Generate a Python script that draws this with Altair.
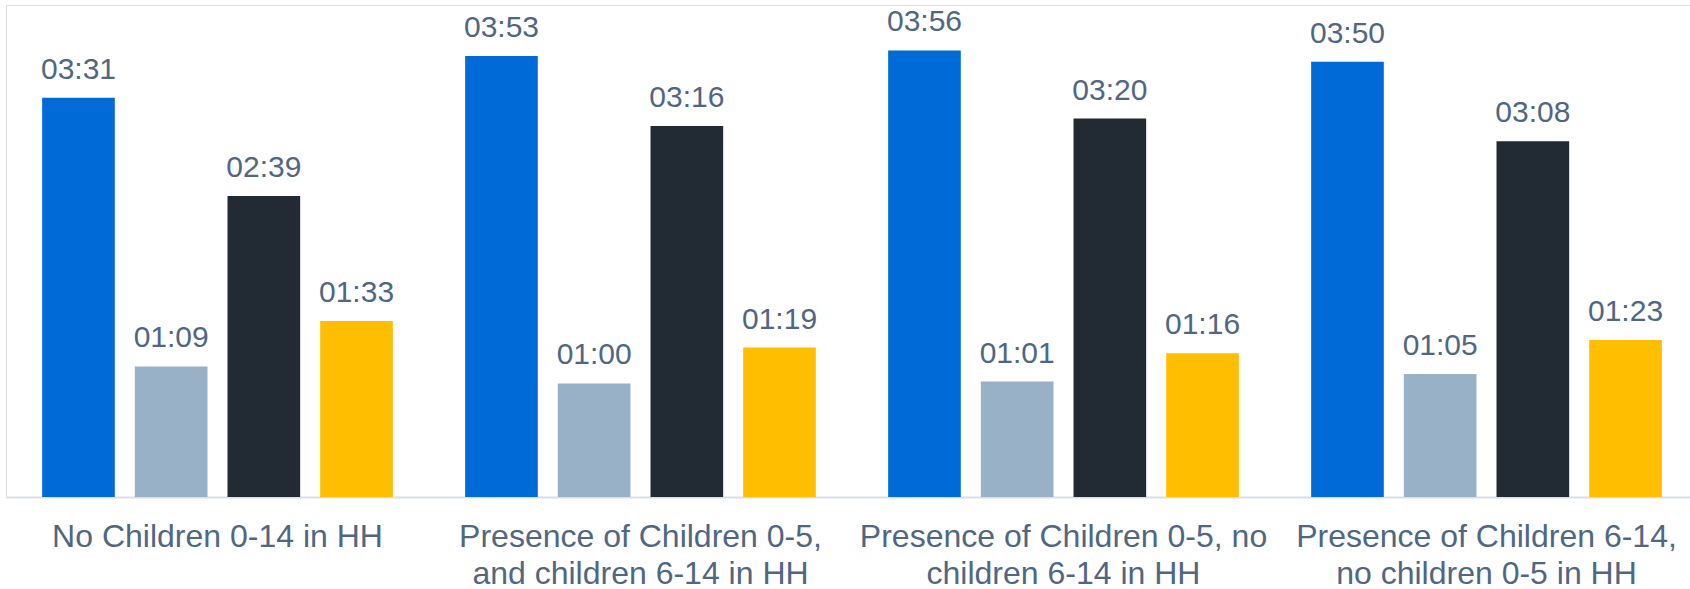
import altair as alt
import pandas as pd

groups = [
    "No Children 0-14 in HH",
    "Presence of Children 0-5,|and children 6-14 in HH",
    "Presence of Children 0-5, no|children 6-14 in HH",
    "Presence of Children 6-14,|no children 0-5 in HH",
]
series = ["Series A", "Series B", "Series C", "Series D"]
colors = ["#006ad6", "#98b1c7", "#222a33", "#ffbf00"]

# values as hh:mm labels, per group, per series
labels_a = ["03:31", "03:53", "03:56", "03:50"]
labels_b = ["01:09", "01:00", "01:01", "01:05"]
labels_c = ["02:39", "03:16", "03:20", "03:08"]
labels_d = ["01:33", "01:19", "01:16", "01:23"]


def to_min(s):
    h, m = s.split(":")
    return int(h) * 60 + int(m)


rows = []
for s, labs in zip(series, [labels_a, labels_b, labels_c, labels_d]):
    for g, lab in zip(groups, labs):
        rows.append({"group": g, "series": s, "label": lab, "minutes": to_min(lab)})
df = pd.DataFrame(rows)

text_color = "#4f6782"

x_enc = alt.X(
    "group:N",
    sort=groups,
    title=None,
    scale=alt.Scale(range=[0, 1692], paddingInner=0, paddingOuter=0),
    axis=alt.Axis(
        labelAngle=0,
        labelFont="Liberation Sans",
        labelFontSize=32,
        labelColor=text_color,
        labelPadding=24,
        labelLineHeight=37,
        labelBaseline="top",
        labelLimit=1000,
        labelOverlap=False,
        labelExpr="split(datum.label, '|')",
        ticks=False,
        tickSize=0,
        domainColor="#d8dfe8",
        domainWidth=2,
        grid=False,
    ),
)
xo_enc = alt.XOffset(
    "series:N", sort=series, scale=alt.Scale(paddingInner=0.216, paddingOuter=0.39)
)
y_enc = alt.Y(
    "minutes:Q", scale=alt.Scale(domain=[0, 260], nice=False), axis=None, title=None
)

bars = alt.Chart(df).mark_bar().encode(
    x=x_enc,
    xOffset=xo_enc,
    y=y_enc,
    color=alt.Color("series:N", sort=series,
                    scale=alt.Scale(domain=series, range=colors), legend=None),
)

texts = alt.Chart(df).mark_text(
    baseline="alphabetic",
    align="center",
    dy=-19,
    font="Liberation Sans",
    fontSize=30,
    color=text_color,
).encode(
    x=x_enc,
    xOffset=xo_enc,
    y=y_enc,
    text="label:N",
)

chart = (
    alt.layer(bars, texts)
    .properties(
        width=1684,
        height=492,
        autosize=alt.AutoSizeParams(type="none"),
        padding={"left": 6, "top": 5, "right": 0, "bottom": 92},
    )
    .configure_view(strokeWidth=0)
    .configure(background="white")
)

chart.save("out.html", embed_options={"renderer": "svg", "actions": False})
